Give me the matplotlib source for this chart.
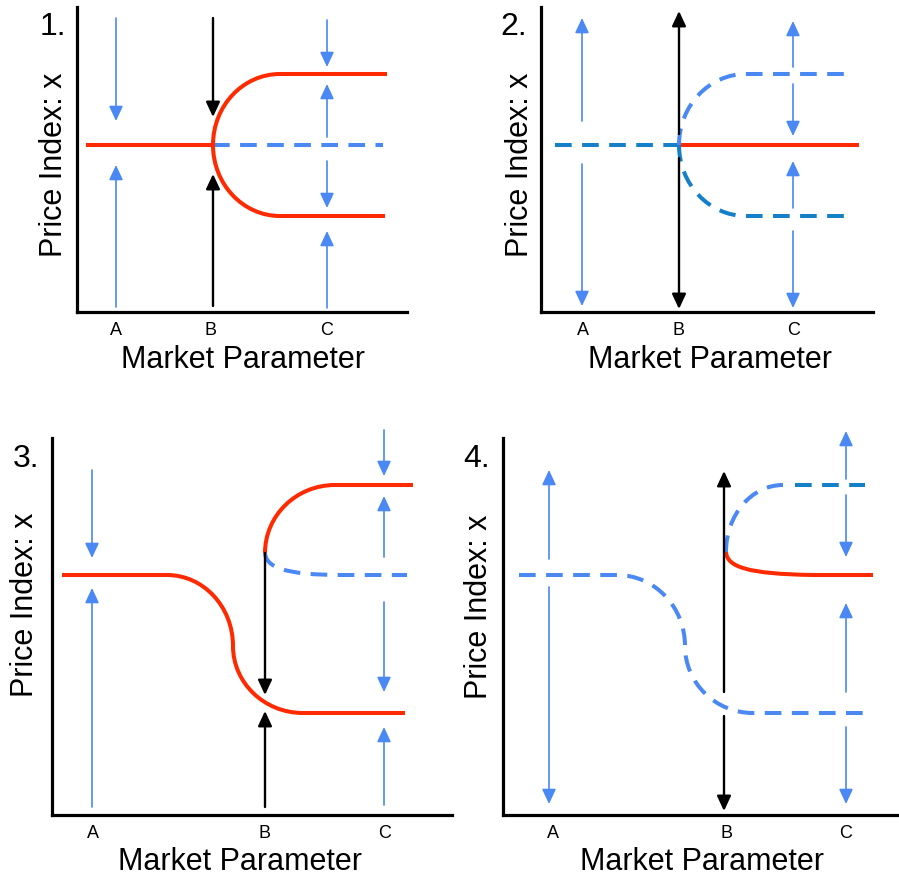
import matplotlib
matplotlib.use('Agg')
import matplotlib.pyplot as plt
from matplotlib.path import Path
from matplotlib.patches import PathPatch

plt.rcParams['font.family'] = ['Liberation Sans', 'DejaVu Sans']
plt.rcParams['lines.scale_dashes'] = False

# ---------------- data (panel units: x = market parameter, y = price index) -------------
tick_labels = ['A', 'B', 'C']
x_title = 'Market Parameter'
y_title = 'Price Index: x'
panel_names = ['1.', '2.', '3.', '4.']

# branches: (kind, start point, segments)
#   'L'  -> straight line to point, 'VH'/'HV' -> quarter arc, 'C' -> cubic (ctrl1, ctrl2, end)
p1_ticks = [39, 133, 250]
p1_branches = [
    ('stable',    (9, 167),   [('L', (136, 167))]),
    ('unstable',  (136, 167), [('L', (306, 167))]),
    ('stable',    (136, 167), [('VH', (203, 238)), ('L', (310, 238))]),
    ('stable',    (136, 167), [('VH', (203, 96)), ('L', (308, 96))]),
]
p1_arrows = [(39, 294, 191, 'flow'), (39, 5, 147, 'flow'),
             (136, 294, 195, 'jump'), (136, 6, 138, 'jump'),
             (250, 292, 245, 'flow'), (250, 175, 228, 'flow'),
             (250, 151, 104, 'flow'), (250, 4, 81, 'flow')]

p2_ticks = [42, 138, 253]
p2_branches = [
    ('unstable2', (14, 167),  [('L', (138, 167))]),
    ('stable',    (138, 167), [('L', (318, 167))]),
    ('unstable',  (138, 167), [('VH', (205, 238)), ('L', (304, 238))]),
    ('unstable2', (138, 167), [('VH', (205, 96)), ('L', (311, 96))]),
]
p2_arrows = [(41, 191, 294, 'flow'), (41, 148, 6, 'flow'),
             (138, 178, 301, 'jump'), (138, 154, 3, 'jump'),
             (252, 245, 291, 'flow'), (252, 228, 176, 'flow'),
             (252, 104, 151, 'flow'), (252, 81, 4, 'flow')]

p3_ticks = [41, 213, 333]
p3_branches = [
    ('stable',   (10, 240),  [('L', (115, 240)), ('HV', (181, 169)),
                              ('VH', (251, 102)), ('L', (353, 102))]),
    ('stable',   (213, 262), [('VH', (283, 330)), ('L', (361, 330))]),
    ('unstable', (213, 262), [('C', (214, 248), (232, 240), (290, 240)),
                              ('L', (355, 240))]),
]
p3_arrows = [(40, 345, 257, 'flow'), (40, 8, 227, 'flow'),
             (213, 262, 120, 'jump'), (213, 8, 104, 'jump'),
             (332, 385, 339, 'flow'), (332, 258, 319, 'flow'),
             (332, 213, 123, 'flow'), (332, 10, 88, 'flow')]

p4_ticks = [50, 224, 343]
p4_branches = [
    ('unstable',  (16, 240),  [('L', (114, 240)), ('HV', (182, 169)),
                               ('VH', (250, 102)), ('L', (362, 102))]),
    ('stable',    (223, 263), [('C', (224, 248), (245, 241), (310, 240)),
                               ('L', (370, 240))]),
    ('unstable',  (223, 263), [('VH', (280, 330))]),
    ('unstable2', (292, 330), [('L', (362, 330))]),
]
p4_arrows = [(46, 256, 345, 'flow'), (46, 228, 11, 'flow'),
             (221, 123, 344, 'jump'), (221, 99, 4, 'jump'),
             (343, 336, 384, 'flow'), (343, 320, 258, 'flow'),
             (343, 123, 212, 'flow'), (343, 88, 11, 'flow')]

# ---------------- layout & styles ----------------
FIG_W, FIG_H = 899, 878
# (left px, bottom px, width px, height px)
panel_boxes = [(77, 313, 330, 305), (541, 313, 332, 305),
               (52, 816, 400, 377), (503, 816, 396, 377)]
# label placement in panel units
xlabel_pos = [(166, -55), (169, -55), (188, -54), (199, -54)]
ylabel_pos = [(-15, 148), (-13, 148), (-19, 211), (-16, 209)]
num_pos = [(-37, 278), (-41, 278), (-39, 349), (-40, 349)]

RED = '#ff2a00'
LBLUE = '#4a88f4'
DBLUE = '#1580c8'
branch_style = {
    'stable':    dict(edgecolor=RED, linestyle='-'),
    'unstable':  dict(edgecolor=LBLUE, linestyle=(0, (12, 7.5))),
    'unstable2': dict(edgecolor=DBLUE, linestyle=(0, (12, 7.5))),
}
arrow_style = {
    'flow': dict(color=LBLUE, lw=1.2),
    'jump': dict(color='black', lw=1.7),
}
K = 0.5523


def build_path(start, segs):
    verts = [start]
    codes = [Path.MOVETO]
    cur = start
    for seg in segs:
        kind = seg[0]
        if kind == 'L':
            verts.append(seg[1])
            codes.append(Path.LINETO)
        elif kind in ('VH', 'HV'):
            x0, y0 = cur
            x3, y3 = seg[1]
            if kind == 'VH':
                c1 = (x0, y0 + K * (y3 - y0))
                c2 = (x3 - K * (x3 - x0), y3)
            else:
                c1 = (x0 + K * (x3 - x0), y0)
                c2 = (x3, y3 - K * (y3 - y0))
            verts += [c1, c2, seg[1]]
            codes += [Path.CURVE4] * 3
        elif kind == 'C':
            verts += [seg[1], seg[2], seg[3]]
            codes += [Path.CURVE4] * 3
        cur = verts[-1]
    return Path(verts, codes)


fig = plt.figure(figsize=(FIG_W / 100, FIG_H / 100), dpi=100)

panels = [(p1_ticks, p1_branches, p1_arrows), (p2_ticks, p2_branches, p2_arrows),
          (p3_ticks, p3_branches, p3_arrows), (p4_ticks, p4_branches, p4_arrows)]

for i, (ticks, branches, arrows) in enumerate(panels):
    left, bottom, w, h = panel_boxes[i]
    ax = fig.add_axes([left / FIG_W, 1 - bottom / FIG_H, w / FIG_W, h / FIG_H])
    ax.set_xlim(0, w)
    ax.set_ylim(0, h)
    ax.patch.set_visible(False)
    for s in ('top', 'right'):
        ax.spines[s].set_visible(False)
    for s in ('left', 'bottom'):
        ax.spines[s].set_linewidth(2.3)
        ax.spines[s].set_capstyle('projecting')
    ax.set_yticks([])
    ax.set_xticks(ticks, tick_labels)
    ax.tick_params(axis='x', length=0, pad=6.5, labelsize=13)

    for x, y0, y1, kind in arrows:
        st = arrow_style[kind]
        ax.annotate('', xy=(x, y1), xytext=(x, y0), annotation_clip=False,
                    arrowprops=dict(arrowstyle='-|>,head_length=0.9,head_width=0.42',
                                    mutation_scale=10, color=st['color'], lw=st['lw'],
                                    shrinkA=0, shrinkB=0))

    for kind, start, segs in branches:
        st = branch_style[kind]
        patch = PathPatch(build_path(start, segs), fill=False, lw=2.9,
                          capstyle='butt', joinstyle='round', clip_on=False, **st)
        ax.add_patch(patch)

    ax.set_xlabel(x_title, fontsize=22)
    ax.xaxis.set_label_coords(*xlabel_pos[i], transform=ax.transData)
    ax.xaxis.label.set_verticalalignment('baseline')
    ax.set_ylabel(y_title, fontsize=22)
    ax.yaxis.set_label_coords(*ylabel_pos[i], transform=ax.transData)
    ax.yaxis.label.set_verticalalignment('baseline')
    ax.text(*num_pos[i], panel_names[i], fontsize=23, ha='left', va='baseline')

fig.savefig('out.png', dpi=100)
